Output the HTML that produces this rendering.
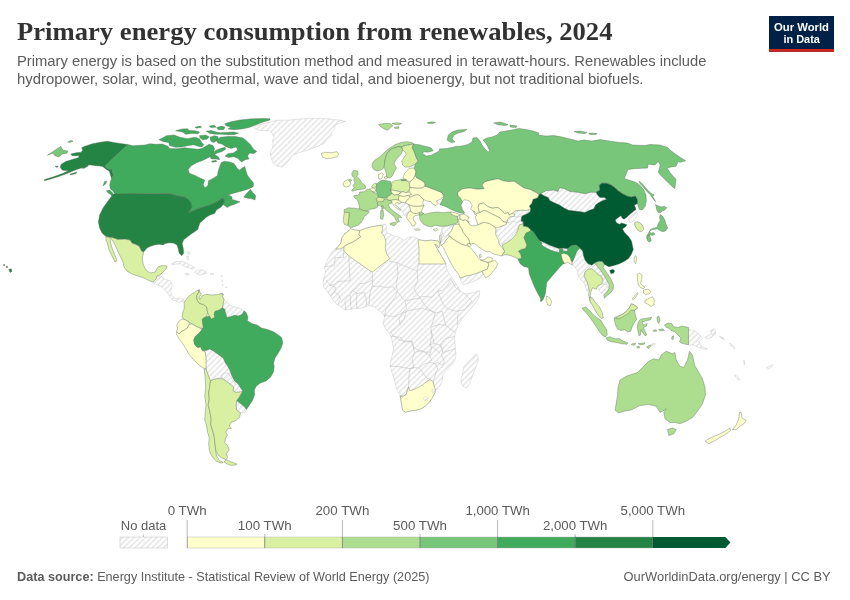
<!DOCTYPE html>
<html lang="en"><head><meta charset="utf-8"><title>Primary energy consumption from renewables, 2024</title>
<style>
html,body{margin:0;padding:0;background:#fff;}
body{width:850px;height:600px;position:relative;overflow:hidden;font-family:"Liberation Sans",sans-serif;}
svg{position:absolute;left:0;top:0;}
text{font-family:"Liberation Sans",sans-serif;}
.title{font-family:"Liberation Serif",serif;font-weight:bold;fill:#323232;}
.sub{fill:#5b5b5b;}
.lg{fill:#5b5b5b;font-size:13px;}
.ft{fill:#5b5b5b;font-size:13px;}
</style></head><body>
<svg width="850" height="600" viewBox="0 0 850 600">
<defs>
<pattern id="hatch" patternUnits="userSpaceOnUse" width="860" height="620">
<rect width="860" height="620" fill="#fff"/>
<path d="M2.9 0.0L0.0 2.9M8.6 0.0L0.0 8.6M14.3 0.0L0.0 14.3M20.0 0.0L0.0 20.0M25.7 0.0L0.0 25.7M31.4 0.0L0.0 31.4M37.1 0.0L0.0 37.1M42.9 0.0L0.0 42.9M48.6 0.0L0.0 48.6M54.3 0.0L0.0 54.3M60.0 0.0L0.0 60.0M65.7 0.0L0.0 65.7M71.4 0.0L0.0 71.4M77.1 0.0L0.0 77.1M82.9 0.0L0.0 82.9M88.6 0.0L0.0 88.6M94.3 0.0L0.0 94.3M100.0 0.0L0.0 100.0M105.7 0.0L0.0 105.7M111.4 0.0L0.0 111.4M117.1 0.0L0.0 117.1M122.9 0.0L0.0 122.9M128.6 0.0L0.0 128.6M134.3 0.0L0.0 134.3M140.0 0.0L0.0 140.0M145.7 0.0L0.0 145.7M151.4 0.0L0.0 151.4M157.1 0.0L0.0 157.1M162.9 0.0L0.0 162.9M168.6 0.0L0.0 168.6M174.3 0.0L0.0 174.3M180.0 0.0L0.0 180.0M185.7 0.0L0.0 185.7M191.4 0.0L0.0 191.4M197.1 0.0L0.0 197.1M202.9 0.0L0.0 202.9M208.6 0.0L0.0 208.6M214.3 0.0L0.0 214.3M220.0 0.0L0.0 220.0M225.7 0.0L0.0 225.7M231.4 0.0L0.0 231.4M237.1 0.0L0.0 237.1M242.9 0.0L0.0 242.9M248.6 0.0L0.0 248.6M254.3 0.0L0.0 254.3M260.0 0.0L0.0 260.0M265.7 0.0L0.0 265.7M271.4 0.0L0.0 271.4M277.1 0.0L0.0 277.1M282.9 0.0L0.0 282.9M288.6 0.0L0.0 288.6M294.3 0.0L0.0 294.3M300.0 0.0L0.0 300.0M305.7 0.0L0.0 305.7M311.4 0.0L0.0 311.4M317.1 0.0L0.0 317.1M322.9 0.0L0.0 322.9M328.6 0.0L0.0 328.6M334.3 0.0L0.0 334.3M340.0 0.0L0.0 340.0M345.7 0.0L0.0 345.7M351.4 0.0L0.0 351.4M357.1 0.0L0.0 357.1M362.9 0.0L0.0 362.9M368.6 0.0L0.0 368.6M374.3 0.0L0.0 374.3M380.0 0.0L0.0 380.0M385.7 0.0L0.0 385.7M391.4 0.0L0.0 391.4M397.1 0.0L0.0 397.1M402.9 0.0L0.0 402.9M408.6 0.0L0.0 408.6M414.3 0.0L0.0 414.3M420.0 0.0L0.0 420.0M425.7 0.0L0.0 425.7M431.4 0.0L0.0 431.4M437.1 0.0L0.0 437.1M442.9 0.0L0.0 442.9M448.6 0.0L0.0 448.6M454.3 0.0L0.0 454.3M460.0 0.0L0.0 460.0M465.7 0.0L0.0 465.7M471.4 0.0L0.0 471.4M477.1 0.0L0.0 477.1M482.9 0.0L0.0 482.9M488.6 0.0L0.0 488.6M494.3 0.0L0.0 494.3M500.0 0.0L0.0 500.0M505.7 0.0L0.0 505.7M511.4 0.0L0.0 511.4M517.1 0.0L0.0 517.1M522.9 0.0L0.0 522.9M528.6 0.0L0.0 528.6M534.3 0.0L0.0 534.3M540.0 0.0L0.0 540.0M545.7 0.0L0.0 545.7M551.4 0.0L0.0 551.4M557.1 0.0L0.0 557.1M562.9 0.0L0.0 562.9M568.6 0.0L0.0 568.6M574.3 0.0L0.0 574.3M580.0 0.0L0.0 580.0M585.7 0.0L0.0 585.7M591.4 0.0L0.0 591.4M597.1 0.0L0.0 597.1M602.9 0.0L0.0 602.9M608.6 0.0L0.0 608.6M614.3 0.0L0.0 614.3M620.0 0.0L0.0 620.0M625.7 0.0L5.7 620.0M631.4 0.0L11.4 620.0M637.1 0.0L17.1 620.0M642.9 0.0L22.9 620.0M648.6 0.0L28.6 620.0M654.3 0.0L34.3 620.0M660.0 0.0L40.0 620.0M665.7 0.0L45.7 620.0M671.4 0.0L51.4 620.0M677.1 0.0L57.1 620.0M682.9 0.0L62.9 620.0M688.6 0.0L68.6 620.0M694.3 0.0L74.3 620.0M700.0 0.0L80.0 620.0M705.7 0.0L85.7 620.0M711.4 0.0L91.4 620.0M717.1 0.0L97.1 620.0M722.9 0.0L102.9 620.0M728.6 0.0L108.6 620.0M734.3 0.0L114.3 620.0M740.0 0.0L120.0 620.0M745.7 0.0L125.7 620.0M751.4 0.0L131.4 620.0M757.1 0.0L137.1 620.0M762.9 0.0L142.9 620.0M768.6 0.0L148.6 620.0M774.3 0.0L154.3 620.0M780.0 0.0L160.0 620.0M785.7 0.0L165.7 620.0M791.4 0.0L171.4 620.0M797.1 0.0L177.1 620.0M802.9 0.0L182.9 620.0M808.6 0.0L188.6 620.0M814.3 0.0L194.3 620.0M820.0 0.0L200.0 620.0M825.7 0.0L205.7 620.0M831.4 0.0L211.4 620.0M837.1 0.0L217.1 620.0M842.9 0.0L222.9 620.0M848.6 0.0L228.6 620.0M854.3 0.0L234.3 620.0M860.0 0.0L240.0 620.0M860.0 5.7L245.7 620.0M860.0 11.4L251.4 620.0M860.0 17.1L257.1 620.0M860.0 22.9L262.9 620.0M860.0 28.6L268.6 620.0M860.0 34.3L274.3 620.0M860.0 40.0L280.0 620.0M860.0 45.7L285.7 620.0M860.0 51.4L291.4 620.0M860.0 57.1L297.1 620.0M860.0 62.9L302.9 620.0M860.0 68.6L308.6 620.0M860.0 74.3L314.3 620.0M860.0 80.0L320.0 620.0M860.0 85.7L325.7 620.0M860.0 91.4L331.4 620.0M860.0 97.1L337.1 620.0M860.0 102.9L342.9 620.0M860.0 108.6L348.6 620.0M860.0 114.3L354.3 620.0M860.0 120.0L360.0 620.0M860.0 125.7L365.7 620.0M860.0 131.4L371.4 620.0M860.0 137.1L377.1 620.0M860.0 142.9L382.9 620.0M860.0 148.6L388.6 620.0M860.0 154.3L394.3 620.0M860.0 160.0L400.0 620.0M860.0 165.7L405.7 620.0M860.0 171.4L411.4 620.0M860.0 177.1L417.1 620.0M860.0 182.9L422.9 620.0M860.0 188.6L428.6 620.0M860.0 194.3L434.3 620.0M860.0 200.0L440.0 620.0M860.0 205.7L445.7 620.0M860.0 211.4L451.4 620.0M860.0 217.1L457.1 620.0M860.0 222.9L462.9 620.0M860.0 228.6L468.6 620.0M860.0 234.3L474.3 620.0M860.0 240.0L480.0 620.0M860.0 245.7L485.7 620.0M860.0 251.4L491.4 620.0M860.0 257.1L497.1 620.0M860.0 262.9L502.9 620.0M860.0 268.6L508.6 620.0M860.0 274.3L514.3 620.0M860.0 280.0L520.0 620.0M860.0 285.7L525.7 620.0M860.0 291.4L531.4 620.0M860.0 297.1L537.1 620.0M860.0 302.9L542.9 620.0M860.0 308.6L548.6 620.0M860.0 314.3L554.3 620.0M860.0 320.0L560.0 620.0M860.0 325.7L565.7 620.0M860.0 331.4L571.4 620.0M860.0 337.1L577.1 620.0M860.0 342.9L582.9 620.0M860.0 348.6L588.6 620.0M860.0 354.3L594.3 620.0M860.0 360.0L600.0 620.0M860.0 365.7L605.7 620.0M860.0 371.4L611.4 620.0M860.0 377.1L617.1 620.0M860.0 382.9L622.9 620.0M860.0 388.6L628.6 620.0M860.0 394.3L634.3 620.0M860.0 400.0L640.0 620.0M860.0 405.7L645.7 620.0M860.0 411.4L651.4 620.0M860.0 417.1L657.1 620.0M860.0 422.9L662.9 620.0M860.0 428.6L668.6 620.0M860.0 434.3L674.3 620.0M860.0 440.0L680.0 620.0M860.0 445.7L685.7 620.0M860.0 451.4L691.4 620.0M860.0 457.1L697.1 620.0M860.0 462.9L702.9 620.0M860.0 468.6L708.6 620.0M860.0 474.3L714.3 620.0M860.0 480.0L720.0 620.0M860.0 485.7L725.7 620.0M860.0 491.4L731.4 620.0M860.0 497.1L737.1 620.0M860.0 502.9L742.9 620.0M860.0 508.6L748.6 620.0M860.0 514.3L754.3 620.0M860.0 520.0L760.0 620.0M860.0 525.7L765.7 620.0M860.0 531.4L771.4 620.0M860.0 537.1L777.1 620.0M860.0 542.9L782.9 620.0M860.0 548.6L788.6 620.0M860.0 554.3L794.3 620.0M860.0 560.0L800.0 620.0M860.0 565.7L805.7 620.0M860.0 571.4L811.4 620.0M860.0 577.1L817.1 620.0M860.0 582.9L822.9 620.0M860.0 588.6L828.6 620.0M860.0 594.3L834.3 620.0" stroke="#e6e6e6" stroke-width="1.5" fill="none"/>
</pattern>
</defs>
<rect width="850" height="600" fill="#fff"/>
<g id="map">
<g fill="url(#hatch)" stroke="#c8c8c8" stroke-width="0.5" stroke-linejoin="round">
<path d="M155.0 280.5L157.2 276.7L161.0 275.7L162.5 278.2L166.2 279.7L170.0 280.5L172.2 283.5L171.5 288.0L170.7 292.5L172.2 296.2L176.0 299.2L179.7 297.7L183.5 299.2L185.0 302.2L182.0 301.5L178.2 302.2L175.2 300.7L172.2 300.0L169.2 295.5L166.2 291.7L163.2 288.0L159.5 285.7L155.7 284.2L152.7 282.7Z"/>
<path d="M171.5 264.0L176.0 261.7L181.2 261.3L186.5 263.2L191.0 265.5L194.7 267.7L193.2 269.2L189.5 268.2L185.0 266.7L180.5 264.0L176.0 264.0L173.0 264.7Z"/>
<path d="M194.7 272.2L197.7 270.0L202.2 269.7L206.0 271.5L206.7 273.7L203.0 274.2L200.0 275.2L197.0 273.7Z"/>
<path d="M185.0 273.7L188.0 273.0L189.2 274.5L186.5 275.4Z"/>
<path d="M210.2 273.7L213.2 273.3L213.5 274.5L210.5 274.8Z"/>
<path d="M186.5 252.0L188.7 251.2L190.2 253.5L188.3 254.2Z"/>
<path d="M186.8 256.5L188.3 256.2L188.7 259.2L187.2 259.5Z"/>
<path d="M221.4 275.7L222.3 275.7L222.3 276.6L221.4 276.6Z"/>
<path d="M221.9 280.2L222.8 280.2L222.8 281.1L221.9 281.1Z"/>
<path d="M222.2 284.7L223.1 284.7L223.1 285.6L222.2 285.6Z"/>
<path d="M225.9 286.9L226.8 286.9L226.8 287.8L225.9 287.8Z"/>
<path d="M254.5 127.0L259.0 124.7L268.0 122.5L277.7 120.2L287.5 120.2L299.5 119.2L310.0 118.3L320.5 118.3L331.0 119.2L340.0 120.2L345.7 121.3L340.0 123.2L335.5 124.7L334.0 129.2L331.7 132.2L331.0 136.0L326.5 139.3L324.2 143.5L319.0 145.7L313.0 148.0L307.0 150.2L299.5 152.5L293.5 154.7L289.7 159.2L286.0 163.7L281.5 167.2L277.0 166.0L273.2 163.0L271.0 157.7L270.2 152.5L272.5 148.0L273.2 144.2L272.5 140.5L274.0 137.5L272.5 133.7L269.5 130.7L263.5 130.7L257.5 130.0L255.2 128.5Z"/>
<path d="M396.5 202.5L399.5 203.3L401.7 202.2L405.5 202.7L408.5 204.5L410.0 207.5L410.7 211.2L408.5 212.0L407.0 215.0L405.5 216.5L404.0 214.2L401.0 209.7L398.0 207.5L395.0 204.5Z"/>
<path d="M419.0 195.0L421.2 197.3L423.5 199.5L422.7 201.8L420.5 199.5Z"/>
<path d="M628.7 217.5L632.5 214.5L636.2 211.5L637.7 213.0L637.0 216.0L634.7 219.0L632.5 222.0L630.2 222.7L628.7 220.5Z"/>
<path d="M540.7 193.7L546.0 190.7L553.5 190.0L558.0 191.5L559.5 187.7L564.0 188.5L570.0 191.5L577.5 192.2L585.0 193.7L591.0 192.2L596.2 192.2L597.7 195.2L600.0 197.5L604.5 197.5L606.7 199.3L603.0 200.5L598.5 202.7L595.5 205.0L594.0 208.7L589.5 210.2L585.0 212.5L580.5 211.7L574.5 211.0L568.5 210.2L564.0 208.0L559.5 205.0L554.2 202.7L549.7 200.5L548.2 197.5L544.5 196.0Z"/>
<path d="M515.0 210.8L521.0 210.2L527.0 210.5L530.7 209.0L530.0 212.0L526.2 214.2L522.5 215.7L518.0 216.8L515.0 216.5L513.5 216.5L515.0 214.2L512.0 213.5Z"/>
<path d="M509.7 216.8L513.5 216.5L515.0 216.5L518.0 216.8L522.5 215.7L521.0 218.0L521.7 218.0L521.0 221.0L517.2 222.5L513.5 221.7L510.5 222.5L506.7 222.5L507.5 219.5Z"/>
<path d="M497.7 227.0L502.2 225.8L506.0 224.7L506.7 222.5L510.5 222.5L513.5 221.7L517.2 222.5L521.0 221.0L523.2 221.7L523.2 224.0L519.5 224.7L518.0 227.7L516.5 231.5L513.5 234.5L510.5 238.2L506.7 241.2L502.2 244.2L499.2 243.5L500.0 239.0L497.7 236.0L496.2 231.5Z"/>
<path d="M442.0 227.5L445.0 225.5L448.0 226.0L451.5 225.0L453.5 225.0L452.5 228.5L451.0 231.5L448.5 234.0L446.0 236.0L444.0 236.5L443.0 234.5L442.0 231.5L441.5 229.0Z"/>
<path d="M441.0 239.0L443.0 237.0L444.0 236.5L446.0 236.0L448.5 234.0L449.5 236.0L447.5 238.5L446.0 240.0L443.5 244.0L441.5 245.0L440.5 242.0Z"/>
<path d="M440.5 232.5L441.8 231.5L442.2 233.5L440.8 235.0Z"/>
<path d="M457.0 216.5L460.0 215.2L460.0 219.0L458.5 219.5Z"/>
<path d="M460.2 278.0L462.5 277.2L467.0 275.7L471.5 275.0L476.0 273.5L482.0 271.2L483.5 274.2L480.5 278.0L474.5 281.0L468.5 283.2L463.2 284.7L461.0 281.7Z"/>
<path d="M541.8 242.7L546.0 244.2L550.5 246.5L555.0 248.3L559.5 249.5L559.5 252.5L555.0 251.7L549.0 249.5L543.7 246.5L541.5 244.7Z"/>
<path d="M562.5 248.7L567.0 248.7L567.7 251.0L563.2 251.3Z"/>
<path d="M572.2 262.2L573.7 259.2L575.2 255.5L576.7 251.7L579.7 248.7L582.7 251.0L583.5 255.5L585.0 260.0L588.0 263.7L590.2 266.7L588.0 269.0L585.0 272.0L584.2 276.5L586.5 280.2L588.0 284.7L588.7 290.0L587.2 291.5L585.7 287.0L583.5 281.7L580.5 279.5L578.2 275.7L577.5 271.2L575.2 267.5L573.3 265.2Z"/>
<path d="M590.2 266.7L591.7 265.2L594.7 263.3L597.0 266.0L600.0 269.7L603.0 272.7L606.0 276.5L607.5 281.0L606.7 284.7L603.0 284.0L603.0 280.2L601.5 276.5L597.7 274.2L594.7 271.2L591.7 268.7L589.5 268.2Z"/>
<path d="M597.7 285.8L601.5 284.0L603.0 284.0L606.7 284.7L609.0 287.7L607.5 291.5L603.7 293.7L600.0 292.2L598.2 289.2Z"/>
<path d="M650.2 344.7L654.7 343.2L655.5 344.0L651.7 345.8Z"/>
<path d="M688.0 328.8L695.0 331.2L700.0 335.0L702.5 338.8L698.8 341.2L701.2 346.2L707.5 348.8L705.0 349.5L698.8 347.5L693.8 345.0L688.0 345.0Z"/>
<path d="M705.0 337.5L711.2 333.8L715.0 330.0L715.5 333.8L711.2 337.5L706.2 338.8Z"/>
<path d="M735.0 374.5L740.0 379.5L738.8 380.5L734.2 375.5Z"/>
<path d="M766.2 368.0L772.5 364.5L773.2 365.5L767.5 369.5Z"/>
<path d="M743.8 360.0L745.0 364.5L744.2 365.0Z"/>
<path d="M710.0 331.2L713.8 328.8L715.5 331.2L712.5 335.0Z"/>
<path d="M719.5 336.2L723.8 338.0L724.5 340.0L720.5 338.0Z"/>
<path d="M729.5 343.0L733.8 346.2L734.5 348.8L730.5 345.5Z"/>
<path d="M224.0 299.5L227.0 302.5L231.5 306.2L236.0 307.0L240.5 308.5L244.2 310.7L242.0 314.5L238.2 316.0L234.5 315.2L230.7 316.7L227.0 317.5L225.5 313.0L224.7 309.2L222.5 307.7L223.2 304.0Z"/>
<path d="M236.7 400.8L240.5 403.5L244.2 406.5L246.5 409.5L245.0 412.5L240.5 412.8L236.7 410.2L236.0 405.0Z"/>
<path d="M221.7 375.0L224.7 372.7L228.5 373.5L230.7 376.5L233.0 381.0L236.7 384.0L240.5 387.7L239.7 392.2L235.2 392.2L233.0 390.7L233.7 387.0L230.0 384.0L226.2 381.0L222.5 378.7Z"/>
<path d="M202.2 350.5L206.0 350.5L209.7 349.0L212.7 350.5L218.0 354.2L223.2 358.0L225.5 363.0L227.7 366.0L230.0 370.5L231.5 375.0L230.7 376.5L228.5 373.5L224.7 372.7L221.7 375.0L221.7 378.7L217.2 378.7L213.5 379.5L210.5 381.0L208.2 375.0L206.0 369.0L206.0 364.0L206.0 358.0L205.2 352.0Z"/>
<path d="M350.7 228.8L355.2 230.0L359.7 230.7L365.0 228.5L371.0 227.0L378.5 225.5L381.8 225.2L385.2 224.3L386.7 227.0L386.0 230.0L387.5 233.0L392.0 235.2L398.0 236.7L404.0 240.5L407.0 238.2L411.5 236.7L417.5 238.2L418.2 239.7L425.0 240.8L431.0 240.2L437.0 240.8L438.5 241.2L440.0 245.0L438.5 248.0L437.0 245.0L434.7 244.2L438.5 251.0L443.0 258.5L446.0 264.0L447.5 271.0L452.8 278.9L458.0 286.8L460.6 291.1L465.0 293.8L472.0 292.9L479.9 290.6L479.0 297.3L474.6 304.3L468.5 311.3L462.4 318.3L458.0 325.3L455.4 332.3L454.5 339.3L455.4 348.0L455.9 355.0L454.7 360.7L450.5 366.0L446.7 369.7L443.0 374.2L442.2 381.0L440.0 385.8L435.8 390.0L434.7 393.0L432.5 397.5L429.5 402.0L425.7 405.7L421.2 408.7L416.0 410.2L410.0 411.0L405.5 412.2L402.5 410.2L401.7 405.0L401.0 400.5L400.2 396.0L396.5 388.5L394.2 379.5L392.3 373.5L390.3 366.0L391.0 360.0L392.5 354.0L393.5 349.0L392.5 343.0L391.5 338.0L390.0 334.0L385.0 328.0L383.0 323.0L385.0 316.0L384.5 314.8L384.7 316.7L382.5 313.0L378.0 310.0L374.2 307.0L369.0 305.5L363.0 307.7L357.0 308.5L351.0 309.2L345.7 310.0L342.0 307.7L337.5 304.7L333.7 301.0L330.7 296.5L327.7 292.0L324.0 287.5L322.8 283.0L324.0 277.7L325.5 272.5L324.7 267.2L326.2 262.7L328.5 257.5L331.5 253.0L334.5 249.2L338.0 246.5L341.0 242.7L341.7 238.2L344.0 234.5L347.7 231.5Z"/>
<path d="M461.0 379.5L462.5 373.5L464.0 366.7L467.7 362.2L472.2 357.7L476.0 353.7L478.2 356.2L477.8 362.2L475.2 369.0L472.2 376.5L469.7 384.0L466.2 388.2L462.8 386.2L461.0 382.5Z"/>
</g>
<g fill="none" stroke="#bebebe" stroke-width="0.55" stroke-linejoin="round">
<path d="M324.7 266.5L334.5 265.7L335.2 257.5L343.5 257.5L343.5 249.2"/>
<path d="M348.7 256.0L350.2 280.7L337.5 281.5L334.5 284.5L330.0 285.2L326.2 280.0"/>
<path d="M372.0 271.7L372.7 280.0L366.0 283.0L360.0 283.7L357.0 287.5L352.5 290.5L350.2 295.0L347.2 296.5L345.0 301.0L345.7 310.0"/>
<path d="M389.2 261.2L396.7 262.7L398.2 274.0L396.0 284.5L397.5 292.0L394.5 298.0L390.0 304.0L385.5 310.0L384.7 316.7"/>
<path d="M396.7 262.7L417.0 271.0L418.5 264.2"/>
<path d="M417.0 271.0L417.7 280.0L414.0 289.0L420.0 298.0L426.0 307.0L435.0 313.0"/>
<path d="M372.0 286.7L378.0 286.0L385.5 287.5L393.0 286.7L396.0 290.5"/>
<path d="M372.7 280.0L372.0 286.7L369.7 295.0L369.0 305.5"/>
<path d="M352.5 290.5L357.0 293.5L364.5 292.7L366.0 298.0L366.7 305.5"/>
<path d="M357.0 293.5L356.2 301.0L357.0 308.5"/>
<path d="M350.2 295.0L351.0 309.2"/>
<path d="M337.5 304.7L340.5 299.5L339.0 295.0L334.5 292.0L330.7 296.5"/>
<path d="M334.5 292.0L336.0 287.5L330.0 285.2"/>
<path d="M397.5 292.0L405.0 301.0L411.0 299.5L420.0 298.0"/>
<path d="M405.0 301.0L406.5 308.5L402.0 313.0L399.0 319.0L400.5 325.0"/>
<path d="M419.5 297.3L424.8 296.4L431.8 297.3L437.9 291.1L441.4 300.8L445.8 307.8L456.3 311.3L465.0 309.5L472.0 300.8L465.0 293.8"/>
<path d="M442.3 311.3L435.3 313.0L431.8 311.3L423.0 308.6L412.5 309.5L406.4 311.3L402.0 313.0L395.0 316.5L384.5 315.6"/>
<path d="M435.3 313.0L433.5 320.0L430.9 327.0L431.8 335.8L430.0 344.5L433.5 348.0L440.5 353.3"/>
<path d="M431.8 327.0L438.8 324.4L445.8 325.3L454.5 332.3"/>
<path d="M442.3 311.3L444.0 318.3L445.8 325.3"/>
<path d="M458.0 313.0L457.1 325.3"/>
<path d="M406.4 311.3L403.8 320.0L397.6 327.0L390.6 332.3L395.0 337.5L402.9 341.0L410.8 341.0L414.3 348.0L421.3 351.5L430.0 352.4"/>
<path d="M451.0 278.9L447.5 285.0L442.3 290.3L437.9 291.1"/>
<path d="M460.6 291.1L455.4 287.6L451.0 278.9"/>
<path d="M400.2 396.0L406.2 394.5L408.5 387.0L409.2 373.5L410.0 368.7"/>
<path d="M389.7 366.0L399.5 366.7L410.0 368.7L413.7 367.5"/>
<path d="M410.0 368.7L414.5 367.5L419.0 368.2L423.5 373.5L426.5 378.0L430.2 379.8"/>
<path d="M419.0 368.2L423.5 364.5L429.5 362.2L435.5 363.7L437.7 369.0L435.5 373.5L433.2 381.7"/>
<path d="M413.7 367.5L412.2 358.5L414.5 352.5L422.0 350.2L429.5 355.5L431.7 360.0L429.5 362.2"/>
<path d="M429.5 355.5L431.7 348.0L429.5 345.0L434.0 343.5L440.0 345.0L443.0 349.5L441.5 355.5L444.5 361.5L442.2 365.2L437.7 362.2L435.5 363.7"/>
<path d="M440.0 345.0L443.0 352.5L455.0 348.7"/>
<path d="M391.2 336.0L401.0 337.5L404.0 342.0L412.2 341.2L414.5 352.5"/>
<path d="M434.0 343.5L432.5 336.0L431.0 330.0"/>
<path d="M440.0 345.0L444.5 339.0L455.0 336.0"/>
</g>
<g stroke="#5a6b5a" stroke-width="0.4" stroke-linejoin="round">
<path d="M127.7 144.5L104.8 166.0L108.2 169.3L111.7 169.3L113.2 175.0L111.7 178.7L110.5 175.0L109.3 171.2L106.0 169.3L103.0 166.7L100.0 166.0L95.5 165.7L92.5 165.2L88.0 164.8L85.0 166.7L80.5 168.2L76.0 169.7L72.2 171.2L67.0 173.5L58.0 176.8L49.0 179.5L44.2 180.7L44.5 179.5L53.5 176.8L62.5 173.5L68.5 170.8L62.5 170.2L60.2 167.5L61.0 164.5L65.5 161.5L72.2 159.5L78.2 157.7L79.3 155.8L72.2 155.8L70.7 154.0L76.0 152.8L81.2 152.2L82.7 150.2L81.7 147.7L85.0 146.2L92.5 143.8L100.0 142.3L107.5 141.2L115.0 142.7L122.5 143.8Z" fill="#238443"/>
<path d="M47.5 155.2L55.0 150.2L60.7 146.5L63.2 150.2L67.7 151.0L67.0 153.2L62.5 154.0L58.7 157.0L55.0 155.8L52.7 153.2Z" fill="#78c679"/>
<path d="M67.7 142.0L70.7 140.5L73.0 141.2L70.0 142.4Z" fill="#78c679"/>
<path d="M55.0 166.4L58.3 166.0L57.2 167.5Z" fill="#238443"/>
<path d="M81.7 168.2L85.0 166.0L88.7 164.5L87.7 166.3L84.2 168.2Z" fill="#238443"/>
<path d="M70.0 174.2L76.7 172.0L76.0 173.5L70.7 175.0Z" fill="#238443"/>
<path d="M103.0 185.8L104.5 181.7L106.7 181.0L105.7 184.0Z" fill="#41ab5d"/>
<path d="M106.4 190.7L109.7 190.0L112.7 193.0L114.5 196.7L113.2 197.8L110.5 194.5L108.2 193.0Z" fill="#41ab5d"/>
<path d="M115.0 194.2L112.7 190.7L110.5 189.2L109.7 185.5L110.5 181.0L111.7 178.7L113.2 175.0L111.7 169.3L108.2 169.3L104.8 166.0L127.7 144.5L133.0 145.7L145.0 145.0L150.0 143.7L156.0 144.3L162.0 144.0L168.0 146.2L169.5 148.5L177.0 148.8L184.5 147.7L191.2 148.5L198.0 149.2L201.7 148.5L205.5 146.2L209.2 144.3L213.0 145.5L214.5 148.5L213.7 151.8L216.7 150.0L220.5 148.5L225.0 147.3L225.7 149.2L222.0 151.5L217.5 153.0L214.5 154.5L210.0 156.7L206.2 158.7L202.5 160.5L196.5 162.7L191.2 165.7L188.2 169.5L189.3 173.2L195.0 175.5L201.0 178.5L204.7 180.0L203.2 184.5L204.7 187.8L207.7 186.0L208.5 180.7L213.0 178.5L217.5 175.5L218.2 171.0L219.7 166.5L221.2 162.7L224.2 161.2L229.5 162.0L234.0 163.5L237.0 168.0L239.2 170.2L242.2 168.0L244.8 166.5L246.0 171.0L247.5 175.5L250.5 179.2L253.5 183.0L253.2 186.7L249.0 188.7L243.0 190.7L236.2 192.5L231.0 194.0L226.5 195.8L229.5 195.5L232.2 197.0L231.7 199.2L236.2 200.7L240.0 201.8L234.7 204.2L230.2 205.7L227.2 207.5L225.7 206.3L223.2 204.5L224.2 201.5L223.5 198.2L220.5 199.2L217.5 201.5L213.0 203.7L209.2 205.2L204.0 206.7L198.0 208.7L193.5 210.5L188.7 212.7L192.0 206.7L191.2 203.0L188.2 199.2L184.5 197.0L180.0 196.2L172.5 194.7L171.0 193.7L150.0 193.7Z" fill="#41ab5d"/>
<path d="M243.7 197.0L247.5 192.5L250.5 189.5L252.7 192.5L255.7 195.5L255.0 200.0L251.2 198.5L247.5 198.2Z" fill="#41ab5d"/>
<path d="M159.0 139.8L166.5 135.7L174.0 135.0L180.0 137.2L187.5 138.7L195.0 137.2L199.5 138.7L201.7 142.5L204.0 144.7L201.7 147.0L198.0 146.2L193.5 144.7L187.5 145.8L181.5 147.0L175.5 147.3L169.5 145.5L168.7 142.5L163.5 141.7Z" fill="#41ab5d"/>
<path d="M175.5 130.8L182.2 129.0L187.5 128.7L189.3 130.5L195.0 130.8L199.5 132.0L198.0 133.8L192.0 133.5L186.0 134.2L182.2 132.0Z" fill="#41ab5d"/>
<path d="M195.0 127.2L200.2 126.0L201.7 127.2L196.5 128.2Z" fill="#41ab5d"/>
<path d="M199.5 135.7L205.5 135.0L209.2 136.8L207.0 139.2L202.5 139.8L200.2 138.0Z" fill="#41ab5d"/>
<path d="M209.2 126.0L214.5 125.2L216.0 127.2L210.7 127.5Z" fill="#41ab5d"/>
<path d="M206.2 131.2L211.5 130.5L216.0 132.0L220.5 132.7L228.0 132.3L234.0 132.0L238.5 133.2L234.0 134.7L228.0 134.7L222.0 134.2L216.0 134.2L210.0 133.5Z" fill="#41ab5d"/>
<path d="M224.7 123.7L231.0 121.8L240.0 120.0L252.0 118.8L264.0 118.5L270.0 118.8L270.0 120.0L261.0 122.7L255.0 125.2L249.0 127.5L241.5 129.0L234.0 129.7L228.0 129.0L231.0 126.7L226.5 126.0Z" fill="#41ab5d"/>
<path d="M216.7 127.5L222.0 126.0L225.0 127.5L223.5 129.7L218.2 129.7Z" fill="#41ab5d"/>
<path d="M210.0 137.2L214.5 135.7L218.2 136.8L217.5 140.2L213.7 142.5L210.7 141.0Z" fill="#41ab5d"/>
<path d="M216.0 140.2L220.5 137.2L228.0 136.5L235.5 136.5L243.0 138.0L247.5 141.7L250.5 144.7L253.5 149.2L256.8 151.5L253.5 153.7L249.7 153.0L247.5 156.0L249.0 159.0L245.2 159.7L241.5 162.0L237.7 158.2L234.0 156.7L228.0 157.5L225.0 156.0L228.0 153.7L233.2 153.0L237.7 150.0L236.2 147.0L231.0 148.5L225.0 146.2L222.0 144.0L218.2 143.2Z" fill="#41ab5d"/>
<path d="M210.0 156.7L214.5 154.5L218.2 156.7L219.7 159.7L216.0 159.0L211.5 159.0Z" fill="#41ab5d"/>
<path d="M211.5 161.2L216.0 160.2L216.7 161.7L212.2 162.3Z" fill="#41ab5d"/>
<path d="M113.6 194.0L171.0 193.7L172.5 194.7L180.0 196.2L184.5 197.0L188.2 199.2L191.2 203.0L192.0 206.7L188.7 212.7L193.5 210.5L198.0 208.7L204.0 206.7L209.2 205.2L213.0 203.7L217.5 201.5L220.5 199.2L223.5 198.2L224.2 201.5L223.2 204.5L220.5 207.5L216.7 209.7L214.5 213.5L210.0 215.0L206.2 217.2L203.2 220.2L200.2 222.5L198.7 226.2L198.0 229.2L195.0 231.5L190.5 234.5L186.7 237.5L183.7 239.7L182.2 243.5L183.3 248.7L183.7 253.2L181.8 255.8L179.2 253.2L178.2 248.7L177.0 245.0L174.0 243.2L169.5 242.7L165.0 243.5L163.5 245.0L159.0 244.2L154.5 245.0L150.0 246.5L147.0 248.0L143.6 252.0L141.6 251.0L139.0 246.0L135.0 244.0L132.0 243.0L130.0 240.0L125.0 239.0L118.0 239.4L112.0 237.4L106.0 236.6L102.0 233.0L99.6 228.0L98.4 222.0L99.6 215.0L103.0 208.0L108.0 201.0L111.0 197.0Z" fill="#238443"/>
<path d="M106.0 237.0L110.0 237.4L110.6 243.0L112.4 249.0L115.0 255.0L117.0 260.6L115.0 262.0L112.0 256.0L109.0 250.0L107.6 244.0L106.0 240.0Z" fill="#d9f0a3"/>
<path d="M110.0 237.4L112.0 237.4L118.0 239.6L125.0 239.2L130.0 240.2L132.0 243.2L135.0 244.2L139.0 246.2L141.6 251.2L143.6 252.4L142.4 258.0L143.0 264.0L146.0 270.0L150.0 273.0L155.0 272.0L158.0 267.0L162.0 265.6L167.0 266.0L166.0 269.0L163.0 272.0L160.0 275.0L157.0 276.0L156.0 279.0L153.0 282.0L149.0 280.6L144.0 278.0L138.0 276.0L132.0 274.0L127.0 271.0L124.0 267.0L123.0 262.0L119.0 254.0L116.0 247.0L113.0 241.0Z" fill="#d9f0a3"/>
<path d="M220.2 294.0L222.5 293.2L223.4 294.7L221.0 295.8Z" fill="#ffffcc"/>
<path d="M321.2 153.7L325.0 152.2L331.0 152.8L337.0 151.7L338.8 154.3L337.0 156.7L331.7 158.2L326.5 158.5L322.7 157.3Z" fill="#ffffcc"/>
<path d="M372.2 163.5L374.3 160.5L380.0 156.7L384.5 152.2L389.0 148.5L395.0 144.7L401.0 142.5L407.0 141.7L412.2 142.5L413.7 144.0L410.0 144.7L405.5 145.5L401.7 147.0L398.0 146.7L393.5 148.2L389.7 150.0L386.7 154.5L385.2 159.0L384.5 163.5L383.7 168.0L380.7 170.2L377.0 171.0L373.7 169.5L372.2 166.5Z" fill="#addd8e"/>
<path d="M385.2 159.0L386.7 154.5L389.7 150.0L393.5 148.2L398.0 146.7L401.7 147.0L402.8 150.0L401.0 154.5L397.2 158.2L395.0 161.2L394.2 164.2L396.5 168.0L394.2 171.7L392.7 175.5L389.7 178.2L386.7 177.0L386.0 172.5L384.5 168.0L384.5 163.5Z" fill="#addd8e"/>
<path d="M401.7 147.0L405.5 145.5L410.0 144.7L413.7 144.0L412.2 147.7L414.5 152.2L416.0 156.7L418.2 161.2L415.2 164.2L410.0 166.8L405.5 167.2L402.5 165.0L401.7 161.2L404.0 157.5L406.2 154.5L404.7 151.5L402.8 150.0Z" fill="#d9f0a3"/>
<path d="M378.5 124.8L384.5 123.3L390.5 123.7L392.7 125.7L390.5 127.8L387.5 130.2L383.7 128.7L380.7 126.7Z" fill="#addd8e"/>
<path d="M392.0 123.3L396.5 122.7L401.7 123.3L399.5 124.8L394.2 124.5Z" fill="#addd8e"/>
<path d="M394.2 127.2L398.7 126.7L399.2 128.2L395.0 128.5Z" fill="#addd8e"/>
<path d="M427.2 122.7L431.7 121.8L435.5 122.4L432.5 123.6L428.7 123.6Z" fill="#78c679"/>
<path d="M351.8 173.2L353.7 170.2L357.5 171.0L358.2 174.0L356.7 176.7L359.7 179.2L362.0 183.0L365.0 185.2L365.7 188.2L362.0 189.3L357.5 189.7L353.0 191.2L351.5 190.5L354.2 187.8L353.0 185.2L355.2 183.0L353.7 180.0L354.5 177.7L352.2 176.2Z" fill="#addd8e"/>
<path d="M348.2 180.0L350.3 178.9L351.8 180.3L350.0 181.8Z" fill="#addd8e"/>
<path d="M344.3 181.5L347.7 179.7L350.0 181.8L350.7 183.7L349.2 186.0L346.2 187.2L343.7 186.0L343.2 183.7Z" fill="#ffffcc"/>
<path d="M378.5 174.7L381.5 172.8L383.3 174.0L382.7 177.0L380.7 179.2L378.8 178.8Z" fill="#ffffcc"/>
<path d="M384.2 177.0L386.7 176.2L387.2 178.5L385.2 179.2Z" fill="#ffffcc"/>
<path d="M371.7 186.0L374.7 183.3L377.0 183.7L376.2 186.7L374.3 188.2L372.2 187.8Z" fill="#d9f0a3"/>
<path d="M369.5 189.3L372.2 187.8L374.3 188.4L375.8 190.5L374.3 192.3L371.7 191.2Z" fill="#ffffcc"/>
<path d="M377.0 183.7L380.0 181.2L383.0 180.0L386.7 180.7L390.5 181.5L391.7 186.0L390.8 189.7L392.0 193.5L389.0 195.7L386.7 198.0L382.2 197.7L378.5 197.2L377.7 194.2L375.8 190.5L376.2 186.7Z" fill="#78c679"/>
<path d="M391.7 182.7L395.0 180.7L401.0 179.7L406.7 180.7L409.2 183.0L410.0 186.7L409.2 190.5L406.2 192.7L402.5 191.7L398.0 191.2L394.2 190.5L390.8 189.7L391.7 186.0Z" fill="#d9f0a3"/>
<path d="M401.0 179.2L406.2 179.5L406.7 180.7L401.3 180.7Z" fill="#78c679"/>
<path d="M403.2 177.0L404.7 173.2L407.0 171.0L409.2 168.3L414.5 168.0L416.0 171.7L415.2 175.5L413.0 179.2L410.0 181.8L406.7 180.7L406.2 179.2L403.2 178.8Z" fill="#ffffcc"/>
<path d="M410.0 181.8L413.0 179.2L415.2 175.5L416.7 177.7L421.2 180.0L425.0 183.0L425.0 186.0L422.0 188.2L416.0 188.2L410.0 187.5L409.5 184.5Z" fill="#ffffcc"/>
<path d="M410.0 187.5L416.0 188.2L422.0 188.2L425.0 186.0L431.0 188.2L437.0 190.5L442.2 192.7L443.7 196.5L440.0 199.5L436.2 201.0L438.5 203.2L435.5 205.5L432.5 204.0L431.0 201.7L426.5 201.0L423.5 199.5L421.2 197.2L419.0 195.0L415.2 195.0L410.0 197.2L408.5 195.4L411.5 194.2L409.2 192.0L409.5 189.7Z" fill="#ffffcc"/>
<path d="M390.8 189.7L394.2 190.5L398.0 191.2L401.0 192.7L398.0 194.7L394.2 195.0L392.0 193.5Z" fill="#ffffcc"/>
<path d="M401.0 192.7L402.5 191.7L406.2 192.7L409.2 192.0L411.5 194.2L408.5 195.4L403.2 196.5L399.5 195.7L398.0 194.7Z" fill="#ffffcc"/>
<path d="M353.7 195.8L359.0 194.7L359.7 192.0L364.2 191.7L367.2 189.3L369.5 189.3L371.7 191.3L374.3 192.3L377.7 194.3L378.5 197.3L376.2 198.8L377.0 201.0L377.3 202.7L377.7 205.2L377.3 207.5L374.0 208.7L370.2 209.3L367.2 211.2L363.5 210.5L359.7 209.0L359.0 204.5L357.5 200.0L354.5 197.7Z" fill="#addd8e"/>
<path d="M344.0 209.7L348.5 207.8L354.5 208.2L359.7 209.0L363.5 210.5L367.2 211.2L369.5 212.0L367.2 214.2L364.2 216.5L362.7 220.2L360.5 223.2L357.5 225.5L353.0 227.0L350.7 227.7L348.5 226.2L347.7 225.2L348.2 222.5L348.8 217.2L349.2 212.7L344.3 212.3Z" fill="#addd8e"/>
<path d="M344.3 212.3L349.2 212.7L348.8 217.2L348.2 222.5L347.7 225.2L344.7 224.7L343.2 221.0L343.7 216.5Z" fill="#d9f0a3"/>
<path d="M377.3 202.7L380.0 201.5L383.0 201.5L384.5 198.8L386.7 199.2L388.2 200.0L391.2 200.3L392.0 203.0L389.7 203.7L388.2 204.5L389.7 207.5L392.7 210.5L396.5 213.5L400.2 215.7L401.7 217.7L399.5 217.2L398.0 218.7L399.5 221.7L397.2 222.5L395.7 219.5L394.2 216.5L391.2 214.2L388.2 211.7L385.2 209.0L383.0 206.7L380.0 206.0L377.7 205.2Z" fill="#addd8e"/>
<path d="M390.2 223.2L395.7 222.2L396.5 223.7L394.2 225.8L390.5 224.7Z" fill="#addd8e"/>
<path d="M380.7 210.5L383.0 209.7L383.7 215.0L382.7 219.5L380.4 218.7L380.7 214.2Z" fill="#addd8e"/>
<path d="M381.5 206.0L383.0 205.7L383.3 209.0L381.8 209.3Z" fill="#addd8e"/>
<path d="M376.2 198.8L378.5 197.3L382.2 197.7L384.5 198.8L383.0 201.5L379.2 201.8L377.0 201.0Z" fill="#d9f0a3"/>
<path d="M386.7 198.0L389.0 195.8L392.0 193.5L394.2 195.0L398.0 194.7L399.5 195.8L398.7 197.3L398.7 200.3L395.7 199.5L391.2 200.3L387.5 199.8Z" fill="#d9f0a3"/>
<path d="M391.2 200.3L395.7 199.5L398.7 200.3L401.7 202.2L399.5 203.3L396.5 202.5L395.0 204.5L398.0 207.5L401.0 209.7L400.2 210.5L396.5 208.2L393.5 205.2L392.0 203.0Z" fill="#ffffcc"/>
<path d="M398.7 197.3L399.5 195.8L403.2 196.5L408.5 195.5L410.0 197.3L407.0 200.3L405.5 202.7L401.7 202.2L398.7 200.3Z" fill="#ffffcc"/>
<path d="M410.0 197.3L415.2 195.0L419.0 195.0L421.2 197.3L423.5 199.5L422.7 203.3L424.2 205.5L419.0 206.3L413.0 206.3L408.5 204.5L405.5 202.7L407.0 200.3Z" fill="#ffffcc"/>
<path d="M410.0 207.5L408.5 204.5L413.0 206.3L419.0 206.3L423.8 206.0L422.0 209.7L421.2 212.0L416.7 213.5L413.0 213.2L410.7 211.2Z" fill="#ffffcc"/>
<path d="M407.0 215.0L408.5 212.3L410.7 211.4L413.0 213.2L416.7 213.5L419.7 212.7L419.0 215.0L415.2 215.7L413.0 217.2L413.7 220.2L416.0 223.2L414.5 225.5L412.2 226.2L410.7 223.2L408.8 221.0L406.7 218.0Z" fill="#ffffcc"/>
<path d="M414.5 229.2L419.0 228.8L420.2 230.0L416.0 230.4Z" fill="#ffffcc"/>
<path d="M419.7 215.0L422.0 212.7L425.0 214.2L431.0 212.7L437.0 212.0L443.0 212.7L449.0 212.0L455.0 213.5L457.2 215.0L458.0 222.5L455.0 224.0L451.2 224.7L446.0 226.2L440.0 226.2L435.5 225.2L431.0 227.0L426.5 225.8L423.5 224.3L421.2 221.7L419.7 218.7Z" fill="#addd8e"/>
<path d="M419.0 214.2L421.2 212.3L423.5 213.5L422.0 215.0L419.7 215.3Z" fill="#addd8e"/>
<path d="M433.2 229.7L437.0 228.5L438.2 229.7L435.5 231.2Z" fill="#ffffcc"/>
<path d="M413.7 144.0L419.0 144.7L425.0 146.2L431.0 147.7L433.2 150.7L428.0 152.2L423.5 151.8L422.7 153.7L426.5 156.0L431.0 155.2L434.0 153.7L438.5 151.5L440.0 148.5L440.0 149.0L446.0 148.4L452.0 147.6L456.0 146.4L462.0 146.0L468.0 144.4L472.0 142.0L473.0 138.0L477.0 137.6L480.0 141.0L482.0 145.0L485.0 149.0L488.0 152.0L489.6 151.0L488.0 147.0L485.6 143.0L483.0 140.0L487.0 138.0L492.0 137.0L497.0 135.0L500.0 132.0L506.0 131.0L512.0 130.0L519.0 128.4L526.0 129.6L533.0 131.0L539.0 133.0L538.0 135.0L546.0 136.0L554.0 135.6L562.0 137.0L570.0 139.0L578.0 141.0L584.0 140.0L592.0 141.0L600.0 139.6L610.0 141.2L620.0 142.5L627.5 143.0L632.5 145.0L645.0 145.5L650.0 144.5L660.0 145.0L667.5 147.5L670.0 150.0L676.0 154.5L680.5 157.5L685.7 160.8L680.5 162.3L678.2 161.7L676.0 166.2L670.0 167.2L667.0 168.0L670.0 172.5L673.7 177.0L676.0 179.2L674.8 188.7L670.0 184.5L664.7 179.2L660.2 174.7L658.3 172.5L660.2 165.0L658.3 161.2L655.0 165.0L648.2 164.2L647.5 168.0L642.2 168.3L634.0 168.7L628.0 169.5L626.2 174.0L624.2 178.5L631.0 180.7L635.5 182.2L640.0 185.2L643.7 189.7L646.0 195.0L646.3 201.0L645.2 206.2L642.2 210.0L639.2 209.2L637.4 203.5L637.2 199.3L635.2 196.0L631.5 197.2L627.0 196.0L622.5 193.7L618.0 190.7L615.0 187.7L610.5 184.7L606.0 183.2L601.5 183.2L599.2 185.5L600.0 190.0L596.2 192.2L591.0 192.2L585.0 193.7L577.5 192.2L570.0 191.5L564.0 188.5L559.5 187.7L558.0 191.5L553.5 190.0L546.0 190.7L540.7 193.7L539.0 194.7L536.0 192.5L530.0 189.5L524.0 188.0L519.5 185.0L514.2 181.2L509.0 181.7L503.0 180.8L497.7 178.7L491.0 180.2L485.0 181.7L482.0 185.0L484.2 188.7L477.5 189.2L470.0 188.0L462.5 188.7L457.7 192.5L458.0 195.5L460.2 197.7L462.5 201.5L461.0 205.2L462.5 209.7L464.7 212.7L464.0 213.5L459.5 212.7L455.0 211.2L450.5 209.3L446.0 206.7L441.5 205.2L440.0 204.8L440.0 204.0L441.5 201.7L443.3 198.0L443.7 196.5L442.2 192.7L437.0 190.5L431.0 188.2L425.0 186.0L425.0 183.0L421.2 180.0L416.7 177.7L415.2 175.5L416.0 171.7L414.5 168.0L415.2 164.2L418.2 161.2L416.0 156.7L414.5 152.2L412.2 147.7Z" fill="#78c679"/>
<path d="M447.0 140.0L448.4 135.0L452.0 132.0L458.0 130.0L467.0 129.4L464.0 131.6L458.0 133.0L454.0 135.0L452.0 139.0L455.0 142.0L451.0 142.4Z" fill="#78c679"/>
<path d="M493.6 123.0L500.0 122.0L508.0 124.4L506.0 125.6L499.0 125.0Z" fill="#78c679"/>
<path d="M510.0 125.0L517.0 126.0L516.0 127.6L510.4 127.0Z" fill="#78c679"/>
<path d="M574.0 131.6L580.0 131.0L587.0 132.4L585.0 133.6L578.0 133.0Z" fill="#78c679"/>
<path d="M589.0 133.0L597.0 133.6L596.0 134.6L589.6 134.4Z" fill="#78c679"/>
<path d="M639.2 181.2L642.2 183.7L646.7 189.0L651.2 193.5L654.2 195.0L652.7 196.5L655.0 200.2L655.7 201.7L653.5 199.5L650.5 195.0L646.7 191.2L643.0 186.7L639.7 183.0Z" fill="#78c679"/>
<path d="M655.7 204.7L658.7 206.2L661.7 207.0L664.0 206.2L666.7 207.7L664.7 210.0L662.5 210.7L660.2 213.0L658.0 212.2L656.5 209.2Z" fill="#78c679"/>
<path d="M660.2 214.5L662.5 216.0L664.7 219.7L665.8 223.5L667.7 228.0L665.5 231.0L662.5 231.7L659.5 230.2L657.2 228.7L655.0 229.2L652.0 229.5L649.3 231.7L651.2 233.2L653.5 232.5L655.0 234.0L652.7 235.5L649.7 234.7L648.2 237.0L649.3 240.0L646.7 238.5L647.2 235.5L648.7 232.5L650.5 229.5L653.5 228.3L657.2 227.2L658.0 224.2L660.2 220.5L659.5 217.5Z" fill="#78c679"/>
<path d="M646.7 235.8L649.3 234.9L650.5 237.7L651.2 240.7L649.3 242.2L647.5 240.7Z" fill="#78c679"/>
<path d="M634.7 222.7L637.7 221.7L640.7 223.2L643.0 226.5L643.7 229.5L641.5 231.7L638.5 231.0L636.2 228.0L634.7 225.0Z" fill="#d9f0a3"/>
<path d="M539.0 194.7L537.5 197.7L533.0 199.2L531.5 203.7L529.2 206.0L530.7 209.0L530.0 212.0L526.2 214.2L522.5 215.7L521.0 218.0L521.7 218.0L521.0 221.0L523.2 221.7L523.2 226.2L527.7 227.0L530.7 230.0L533.0 231.5L536.0 236.0L539.0 240.5L544.5 242.7L549.0 245.0L555.0 247.2L559.5 248.7L562.5 248.0L567.7 248.7L571.5 245.7L576.0 245.0L579.7 248.0L582.7 251.0L583.5 255.5L585.0 260.0L588.0 263.7L591.7 265.2L594.7 263.0L598.5 261.5L602.2 261.5L604.5 264.5L609.0 266.7L612.0 266.0L615.0 265.2L619.5 263.7L624.0 261.5L628.5 258.5L631.5 254.0L633.3 249.5L631.5 241.0L628.5 236.5L624.7 232.7L622.5 229.0L625.5 226.7L627.0 224.8L624.0 223.7L621.7 223.0L619.5 224.2L616.5 222.7L615.3 220.0L618.0 217.7L621.0 215.8L622.2 218.2L624.0 219.2L626.2 217.7L630.0 214.3L633.0 211.7L636.0 209.5L634.5 205.0L637.5 203.5L637.2 199.3L635.2 196.0L631.5 197.2L627.0 196.0L622.5 193.7L618.0 190.7L615.0 187.7L610.5 184.7L606.0 183.2L601.5 183.2L599.2 185.5L600.0 190.0L596.2 192.2L597.7 195.2L600.0 197.5L604.5 197.5L606.7 199.3L603.0 200.5L598.5 202.7L595.5 205.0L594.0 208.7L589.5 210.2L585.0 212.5L580.5 211.7L574.5 211.0L568.5 210.2L564.0 208.0L559.5 205.0L554.2 202.7L549.7 200.5L548.2 197.5L544.5 196.0L540.7 193.7Z" fill="#005a32"/>
<path d="M609.7 270.5L612.7 269.3L614.7 270.8L613.5 273.2L610.8 273.5Z" fill="#005a32"/>
<path d="M634.2 257.0L636.0 255.8L636.7 259.2L635.7 263.7L634.2 262.2Z" fill="#ffffcc"/>
<path d="M457.7 192.5L462.5 188.7L470.0 188.0L477.5 189.2L484.2 188.7L482.0 185.0L485.0 181.7L491.0 180.2L497.7 178.7L503.0 180.8L509.0 181.7L514.2 181.2L519.5 185.0L524.0 188.0L530.0 189.5L536.0 192.5L539.0 194.7L537.5 197.7L533.0 199.2L531.5 203.7L529.2 206.0L530.7 209.0L527.0 210.5L521.0 210.2L515.0 210.8L512.0 213.5L509.0 215.0L508.2 212.7L504.5 213.5L501.5 210.2L497.7 207.5L492.5 208.2L488.0 206.7L483.5 203.0L479.0 204.2L478.2 207.5L479.7 212.7L476.0 213.5L473.7 211.2L470.7 209.3L472.2 205.2L469.2 200.7L464.7 199.7L462.5 201.5L460.2 197.7L458.0 195.5Z" fill="#ffffcc"/>
<path d="M478.2 207.5L479.0 204.2L483.5 203.0L488.0 206.7L492.5 208.2L497.7 207.5L501.5 210.2L504.5 213.5L508.2 212.7L509.0 215.0L512.0 213.5L515.0 214.2L513.5 216.5L509.7 216.8L507.5 219.5L506.7 222.5L503.0 221.7L500.0 218.0L495.5 215.7L491.0 213.5L486.5 211.2L483.5 210.5L479.7 212.7Z" fill="#ffffcc"/>
<path d="M473.7 211.2L476.0 213.5L479.7 212.7L483.5 210.5L486.5 211.2L491.0 213.5L495.5 215.7L500.0 218.0L503.0 221.7L506.7 222.5L506.0 224.7L502.2 225.8L497.7 227.7L495.0 227.4L489.0 223.5L482.0 222.9L477.9 225.0L476.7 221.0L475.2 217.2L476.7 215.0L474.5 214.2Z" fill="#ffffcc"/>
<path d="M500.7 255.5L504.5 252.5L502.2 245.0L506.7 242.7L512.0 239.0L515.7 234.5L518.0 230.0L518.3 227.8L519.5 224.8L523.2 224.0L523.2 226.3L527.7 227.0L530.7 230.0L530.0 231.5L526.2 233.0L524.0 237.5L525.5 241.2L527.0 245.0L525.5 248.7L521.7 249.5L518.7 251.0L521.0 254.7L521.7 258.5L518.0 259.2L515.7 257.7L510.5 255.5L506.0 254.7Z" fill="#d9f0a3"/>
<path d="M459.0 224.0L458.5 219.5L460.0 219.0L463.0 220.5L465.0 219.5L467.5 221.0L468.5 222.5L470.0 225.0L474.0 226.0L478.0 225.0L482.0 223.0L484.5 222.5L489.0 223.5L492.0 225.0L495.0 227.5L496.0 230.0L495.5 233.5L496.5 236.5L498.5 240.0L499.0 244.0L502.0 247.5L504.5 251.0L503.5 253.0L501.5 256.0L498.0 255.0L494.0 254.0L491.5 253.0L490.0 251.5L487.0 252.0L484.0 250.5L481.0 248.5L478.0 246.5L475.5 244.0L473.0 243.5L471.0 244.0L470.0 243.5L469.5 242.0L468.5 239.0L466.0 236.0L463.0 232.5L462.0 229.5L460.0 226.5Z" fill="#ffffcc"/>
<path d="M453.5 225.0L459.0 224.0L460.0 226.5L462.0 229.5L463.0 232.5L466.0 236.0L468.5 239.0L469.5 242.0L470.0 243.5L467.5 244.0L465.5 245.5L462.0 244.5L457.0 241.5L452.5 239.0L449.5 236.0L448.5 234.0L451.0 231.5L452.5 228.5Z" fill="#ffffcc"/>
<path d="M467.5 244.0L470.0 243.5L471.0 245.5L469.5 247.0L468.0 246.0Z" fill="#ffffcc"/>
<path d="M439.5 235.5L440.8 235.0L441.2 237.5L440.8 240.0L440.4 243.5L439.6 240.0Z" fill="#ffffcc"/>
<path d="M460.0 215.0L464.0 214.0L467.0 216.0L469.0 217.0L468.0 219.5L468.5 222.5L467.5 221.0L465.0 219.5L463.0 220.5L460.0 219.0Z" fill="#ffffcc"/>
<path d="M450.5 211.8L454.0 212.5L457.5 213.5L460.0 215.0L457.0 216.5L454.0 215.5L451.5 214.5Z" fill="#ffffcc"/>
<path d="M441.0 245.0L443.5 244.0L446.0 240.0L447.5 238.5L449.5 236.0L452.5 239.0L457.0 241.5L462.0 244.5L465.5 245.5L468.0 246.0L469.5 247.0L470.7 248.0L474.5 252.5L478.2 257.7L480.5 260.0L485.0 261.5L488.0 262.2L488.7 265.2L487.2 269.3L482.0 271.2L476.0 273.5L471.5 275.0L467.0 275.7L462.5 277.2L460.2 278.0L458.0 273.5L454.2 269.0L451.2 263.7L448.2 257.7L445.2 251.7L443.7 248.0Z" fill="#ffffcc"/>
<path d="M487.2 269.3L488.7 265.2L488.0 262.2L491.7 261.5L494.7 260.0L497.7 263.7L496.2 267.5L493.2 271.2L490.2 275.0L485.7 278.0L483.5 274.2L482.0 271.2Z" fill="#ffffcc"/>
<path d="M480.5 260.0L485.0 261.5L488.0 262.2L491.7 261.5L492.5 258.5L491.0 257.7L488.0 257.0L485.0 259.2L482.7 260.0Z" fill="#ffffcc"/>
<path d="M479.3 254.7L480.8 254.0L481.2 257.0L479.7 257.7Z" fill="#ffffcc"/>
<path d="M518.0 259.2L521.7 258.5L521.0 254.7L518.7 251.0L521.7 249.5L525.5 248.7L527.0 245.0L525.5 241.2L524.0 237.5L526.2 233.0L530.0 231.5L530.7 230.0L533.0 231.5L536.0 236.0L539.0 240.5L541.8 242.7L541.5 244.7L543.7 246.5L549.0 249.5L555.0 251.7L559.5 252.5L559.5 249.2L562.5 248.3L563.2 251.3L567.7 251.0L567.7 248.7L571.5 245.7L576.0 245.0L579.7 248.0L576.7 251.7L575.2 255.5L573.7 259.2L572.2 262.2L570.7 260.0L569.2 256.2L566.2 254.0L562.5 254.0L561.0 254.0L562.5 260.0L564.7 263.7L563.2 263.7L559.5 267.5L555.0 272.7L550.5 278.0L546.7 282.5L546.0 288.5L545.2 294.5L543.0 299.7L540.7 302.0L540.5 298.2L537.5 293.0L534.5 287.0L531.5 279.5L529.2 273.5L528.5 267.5L524.0 266.7L520.2 263.7Z" fill="#41ab5d"/>
<path d="M546.8 296.0L549.5 297.5L551.7 302.0L550.2 305.7L547.7 305.0L546.2 300.5Z" fill="#ffffcc"/>
<path d="M561.0 254.0L564.0 253.2L567.7 254.7L570.0 257.7L571.5 261.5L572.2 265.2L570.0 263.7L567.7 262.2L564.7 263.7L562.5 260.0Z" fill="#ffffcc"/>
<path d="M585.0 272.0L588.0 269.3L591.7 268.7L594.7 271.2L597.7 274.2L601.5 276.5L603.0 280.2L601.5 284.0L597.7 285.8L596.2 289.2L592.5 287.7L591.0 291.5L590.2 296.0L591.7 299.7L594.0 303.5L596.2 305.7L594.7 306.5L591.7 303.5L589.5 299.7L588.7 294.5L589.2 290.0L588.0 284.7L586.5 280.2L584.2 276.5Z" fill="#d9f0a3"/>
<path d="M594.7 263.0L598.5 261.5L602.2 261.5L604.5 264.5L603.0 267.5L605.2 270.5L608.2 275.0L611.2 279.5L613.5 284.7L613.2 289.2L610.5 293.0L606.7 296.0L604.5 298.2L603.7 295.2L606.7 292.2L609.0 288.5L609.0 284.0L606.7 280.2L603.7 275.0L600.7 270.5L597.7 266.7Z" fill="#addd8e"/>
<path d="M589.5 297.5L592.5 298.2L595.5 302.7L599.2 306.5L602.2 312.5L603.3 317.7L601.5 318.5L598.5 315.5L595.5 311.0L593.2 306.5L590.2 302.0Z" fill="#d9f0a3"/>
<path d="M582.3 308.0L585.7 307.2L589.5 310.2L593.2 314.7L597.0 317.7L600.7 320.0L603.7 325.2L606.7 329.7L607.2 335.0L605.2 337.2L602.2 335.0L599.2 331.2L596.2 326.7L593.2 322.2L590.2 317.7L586.5 313.2L583.5 310.2Z" fill="#addd8e"/>
<path d="M606.0 338.0L609.7 336.8L615.0 338.7L619.5 338.7L623.2 341.0L627.7 342.8L627.0 344.3L621.7 343.7L616.5 342.5L611.2 341.7L607.5 340.2Z" fill="#addd8e"/>
<path d="M631.2 344.3L633.7 343.2L636.0 343.7L633.7 345.5Z" fill="#addd8e"/>
<path d="M638.2 343.7L642.0 343.2L645.0 342.8L644.2 344.3L640.5 344.7Z" fill="#addd8e"/>
<path d="M636.7 346.7L639.0 346.2L639.7 347.7L637.5 348.2Z" fill="#addd8e"/>
<path d="M646.5 347.0L649.5 345.2L651.0 345.8L648.7 348.5Z" fill="#addd8e"/>
<path d="M614.2 317.7L618.0 316.2L621.7 314.7L626.2 311.7L629.2 308.0L631.5 303.8L634.5 305.0L637.5 308.0L634.5 310.2L635.2 314.7L636.7 319.2L634.5 322.2L632.2 326.7L630.7 331.2L627.7 332.0L624.7 329.7L621.0 330.5L617.7 329.0L615.7 325.2L614.7 321.5Z" fill="#addd8e"/>
<path d="M615.7 318.5L618.0 316.2L621.7 314.7L626.2 311.7L629.2 308.0L631.5 303.8L634.5 305.0L637.5 308.0L634.5 310.2L630.7 310.2L628.5 313.2L624.7 315.5L621.0 317.7L617.2 318.8Z" fill="#d9f0a3"/>
<path d="M638.2 322.2L640.5 319.2L645.0 318.5L649.5 317.7L651.7 317.3L650.2 320.0L645.7 320.7L642.0 322.2L643.5 325.2L647.2 323.7L646.5 326.0L643.5 327.5L645.0 331.2L646.8 335.0L645.0 335.7L642.7 332.7L641.2 329.7L640.5 335.0L639.0 335.7L637.8 330.5L637.2 327.5Z" fill="#addd8e"/>
<path d="M657.0 317.0L658.8 316.2L660.0 320.0L658.8 323.7L657.3 321.5Z" fill="#addd8e"/>
<path d="M653.2 330.2L656.2 329.7L656.7 331.2L653.7 331.5Z" fill="#addd8e"/>
<path d="M658.5 329.3L663.0 329.0L664.5 330.5L660.0 330.8Z" fill="#addd8e"/>
<path d="M664.5 324.8L668.2 323.0L672.0 323.7L673.5 326.7L678.0 327.5L681.7 326.0L688.5 327.5L688.5 344.7L684.7 344.0L681.7 343.2L679.5 341.7L681.0 338.0L678.0 335.0L675.0 332.0L671.2 330.5L669.0 328.2L666.0 327.2Z" fill="#addd8e"/>
<path d="M672.0 336.5L673.5 335.7L673.2 339.5L671.7 339.2Z" fill="#addd8e"/>
<path d="M637.2 274.2L639.7 273.2L642.0 275.0L641.7 279.5L640.5 283.2L642.7 285.8L645.0 287.0L643.5 288.8L640.5 287.7L638.2 284.0L637.5 279.5Z" fill="#ffffcc"/>
<path d="M632.2 299.0L635.2 295.2L637.5 292.7L637.8 293.7L636.0 296.7L633.3 299.7Z" fill="#ffffcc"/>
<path d="M643.5 290.0L648.0 289.2L651.0 291.5L649.5 293.7L645.7 294.5L643.5 293.0Z" fill="#ffffcc"/>
<path d="M645.0 300.5L649.5 298.2L652.5 296.7L654.3 300.5L653.7 305.0L651.0 306.5L648.0 304.2L645.0 302.7Z" fill="#ffffcc"/>
<path d="M615.0 410.0L616.2 403.8L617.5 395.0L618.0 387.5L620.0 380.0L626.2 376.2L637.5 372.5L643.8 366.2L648.8 361.2L653.8 358.8L658.8 360.0L661.2 355.0L666.2 351.2L672.5 353.8L675.0 352.5L676.2 360.0L680.0 366.2L683.8 367.5L687.5 360.0L689.5 351.2L692.5 355.0L694.5 365.0L698.8 372.5L702.5 378.8L705.0 387.5L705.5 395.0L702.5 403.8L697.5 411.2L692.5 417.5L686.2 421.2L680.0 423.8L675.0 422.5L670.0 422.5L665.0 418.8L663.8 412.5L666.2 408.8L662.5 411.2L660.0 412.5L656.2 406.2L648.8 404.5L640.0 405.5L631.2 410.0L623.8 411.2L618.8 413.0Z" fill="#addd8e"/>
<path d="M667.5 429.5L672.5 428.0L676.2 429.5L673.8 433.8L668.8 435.5Z" fill="#addd8e"/>
<path d="M732.5 429.5L736.2 425.0L738.8 418.8L739.5 412.5L741.2 412.5L742.0 418.0L746.2 420.5L743.8 423.8L740.0 426.2L736.2 429.5Z" fill="#ffffcc"/>
<path d="M705.0 441.2L710.0 438.0L717.5 435.0L725.0 431.2L730.0 428.0L730.5 430.5L726.2 433.8L720.0 437.5L713.8 441.2L708.8 443.8Z" fill="#ffffcc"/>
<path d="M8.8 269.5L11.2 268.8L12.0 271.2L10.0 272.5Z" fill="#238443"/>
<path d="M6.0 266.5L7.5 266.2L7.5 267.5L6.2 267.5Z" fill="#238443"/>
<path d="M3.5 264.5L4.8 264.5L4.8 265.5L3.5 265.5Z" fill="#238443"/>
<path d="M184.2 302.5L187.2 298.0L190.2 295.0L194.0 292.7L197.0 290.8L199.2 289.7L198.5 292.7L196.7 295.7L197.0 299.5L199.2 303.2L203.7 304.7L206.7 307.0L207.5 312.2L206.7 316.7L204.5 317.5L202.2 319.3L203.0 325.0L203.7 328.7L200.0 328.0L196.2 326.5L192.5 324.2L188.7 322.0L185.0 319.7L182.0 317.5L182.7 313.0L184.2 308.5Z" fill="#d9f0a3"/>
<path d="M199.2 289.7L200.0 292.7L201.5 294.2L199.2 297.2L200.0 299.5L202.2 295.7L206.0 294.2L211.2 295.0L216.5 294.7L221.0 293.8L223.2 294.2L222.5 296.5L224.0 299.5L223.2 304.0L222.5 307.7L219.5 310.0L215.0 311.5L214.2 314.5L215.0 317.5L211.2 319.3L209.3 316.0L207.5 312.2L206.7 307.0L203.7 304.7L199.2 303.2L197.0 299.5L196.7 295.7L198.5 292.7Z" fill="#d9f0a3"/>
<path d="M176.7 325.0L179.0 321.2L182.0 319.0L185.0 319.7L188.7 322.0L189.5 324.2L187.2 328.0L184.2 330.2L181.2 331.7L179.0 334.0L176.7 331.7L177.5 328.0Z" fill="#ffffcc"/>
<path d="M176.7 331.7L179.0 334.0L181.2 331.7L184.2 330.2L187.2 328.0L189.5 324.2L192.5 324.2L196.2 326.5L200.0 328.0L201.5 330.2L199.2 333.2L195.5 336.2L193.7 340.0L194.7 344.5L197.7 347.5L200.7 346.7L202.2 350.5L205.2 352.0L206.0 358.0L206.0 364.0L206.0 368.9L203.7 368.2L199.2 365.2L194.0 360.2L189.5 355.0L186.5 349.7L182.7 343.7L179.0 338.5L176.3 334.0Z" fill="#ffffcc"/>
<path d="M202.2 319.3L204.5 317.5L206.7 316.7L209.3 316.0L211.2 319.3L215.0 317.5L214.2 314.5L215.0 311.5L219.5 310.0L222.5 307.7L224.7 309.2L225.5 313.0L227.0 317.5L230.7 316.7L234.5 315.2L238.2 316.0L242.0 314.5L244.2 310.7L246.5 313.0L248.0 317.5L247.2 320.5L251.7 323.5L257.0 325.0L261.5 328.0L267.5 329.5L273.5 331.7L278.0 334.7L281.7 337.7L282.8 343.0L281.0 348.2L278.0 353.5L275.0 358.0L273.5 363.2L274.2 366.0L273.5 372.0L270.5 377.2L266.0 381.0L260.0 383.2L256.2 386.2L254.3 390.0L254.7 394.5L252.5 400.5L249.5 405.0L246.5 409.5L244.2 406.5L240.5 403.5L236.7 400.5L239.0 397.5L241.2 393.7L242.7 390.7L240.5 387.7L238.2 384.0L234.5 381.0L232.2 376.5L230.0 370.5L227.7 366.0L225.5 363.0L223.2 358.0L218.0 354.2L212.7 350.5L209.7 349.0L206.0 350.5L202.2 350.5L200.7 346.7L197.7 347.5L194.7 344.5L193.7 340.0L195.5 336.2L199.2 333.2L201.5 330.2L202.2 328.0L203.7 328.7L203.0 325.0Z" fill="#41ab5d"/>
<path d="M204.2 369.0L206.0 369.0L208.2 375.0L210.5 381.0L209.7 387.0L208.7 393.0L209.3 399.0L208.2 405.0L209.7 411.0L211.2 418.5L210.8 424.5L212.7 430.5L214.2 436.5L215.0 444.0L215.7 450.0L216.5 456.0L219.5 460.5L223.2 462.4L221.0 463.2L216.5 461.2L212.7 457.5L210.2 453.0L209.3 450.0L208.7 444.0L209.3 438.0L207.5 432.0L206.7 426.0L204.8 420.0L205.2 412.5L206.0 405.0L204.8 396.0L205.7 387.0L205.2 378.0Z" fill="#d9f0a3"/>
<path d="M210.5 381.0L213.5 379.5L217.2 378.7L221.7 378.7L222.5 378.7L226.2 381.0L230.0 384.0L233.7 387.0L233.0 390.7L235.2 392.2L239.7 392.2L242.7 390.7L241.2 393.7L239.0 397.5L236.7 400.5L236.0 405.0L236.7 410.2L240.5 412.8L239.7 417.0L236.0 420.7L231.5 422.2L229.2 426.0L231.5 428.2L227.7 429.0L225.5 432.0L227.7 435.0L225.5 438.0L224.7 442.5L227.7 445.5L229.2 450.0L226.2 453.7L227.7 457.5L225.8 459.7L221.0 457.5L217.7 454.5L215.7 450.0L215.0 444.0L214.2 436.5L212.7 430.5L210.8 424.5L211.2 418.5L209.7 411.0L208.2 405.0L209.3 399.0L208.7 393.0L209.7 387.0Z" fill="#d9f0a3"/>
<path d="M226.2 459.7L231.5 462.0L236.7 463.8L236.0 465.0L230.7 465.3L226.2 463.5L224.0 462.0Z" fill="#d9f0a3"/>
<path d="M350.7 228.8L355.2 230.0L359.7 230.7L359.0 234.5L360.8 236.7L356.7 239.7L353.0 242.0L347.7 244.2L344.0 246.5L341.0 248.7L335.7 249.2L338.0 246.5L341.0 242.7L341.7 238.2L344.0 234.5L347.7 231.5Z" fill="#ffffcc"/>
<path d="M359.7 230.7L365.0 228.5L371.0 227.0L378.5 225.5L381.8 225.2L382.7 228.5L381.5 233.0L384.5 236.7L386.0 242.0L385.2 248.0L386.7 254.0L389.7 258.5L386.0 261.5L380.0 266.0L372.5 272.0L369.5 270.5L362.0 265.2L354.5 260.0L348.5 255.5L344.0 251.0L344.0 246.5L347.7 244.2L353.0 242.0L356.7 239.7L360.8 236.7L359.0 234.5Z" fill="#ffffcc"/>
<path d="M418.2 239.7L425.0 240.8L431.0 240.2L437.0 240.8L438.5 241.2L440.0 245.0L438.5 248.0L437.0 245.0L434.7 244.2L438.5 251.0L443.0 258.5L446.0 264.0L419.0 264.0L419.0 248.0L418.2 242.0Z" fill="#ffffcc"/>
<path d="M400.2 396.0L402.5 396.7L406.2 394.5L408.5 387.0L410.0 390.7L414.5 389.2L419.0 387.0L422.7 384.7L426.5 381.7L430.2 379.8L433.2 381.7L434.3 387.0L435.8 390.0L434.7 393.0L432.5 397.5L429.5 402.0L425.7 405.7L421.2 408.7L416.0 410.2L410.0 411.0L405.5 412.2L402.5 410.2L401.7 405.0L401.0 400.5Z" fill="#ffffcc"/>
</g>
<g fill="url(#hatch)" stroke="#c8c8c8" stroke-width="0.5">
<path d="M423.2 398.2L426.2 396.3L428.0 398.2L425.0 400.8Z"/>
<path d="M431.7 390.0L434.0 389.2L435.2 391.2L432.8 392.7Z"/>
</g>
</g>

<text class="title" x="17" y="39.8" font-size="26" textLength="595.5" lengthAdjust="spacingAndGlyphs">Primary energy consumption from renewables, 2024</text>
<text class="sub" x="17" y="66.3" font-size="15" textLength="689.5" lengthAdjust="spacingAndGlyphs">Primary energy is based on the substitution method and measured in terawatt-hours. Renewables include</text>
<text class="sub" x="17" y="84.3" font-size="15" textLength="626.5" lengthAdjust="spacingAndGlyphs">hydropower, solar, wind, geothermal, wave and tidal, and bioenergy, but not traditional biofuels.</text>
<g>
<rect x="769" y="16" width="65" height="35.8" fill="#002147"/>
<rect x="769" y="49" width="65" height="2.8" fill="#ce261e"/>
<text x="801.5" y="30.6" font-size="11.8" font-weight="bold" fill="#fff" text-anchor="middle" textLength="55" lengthAdjust="spacingAndGlyphs">Our World</text>
<text x="801.7" y="42.9" font-size="11.8" font-weight="bold" fill="#fff" text-anchor="middle" textLength="36.5" lengthAdjust="spacingAndGlyphs">in Data</text>
</g>
<g>
<rect x="120" y="537" width="47.5" height="11" fill="url(#hatch)" stroke="#c8c8c8" stroke-width="0.6"/>
<line x1="143.5" y1="534.5" x2="143.5" y2="537" stroke="#999" stroke-width="0.6"/>
<text class="lg" x="143.5" y="530.2" text-anchor="middle" textLength="45.5" lengthAdjust="spacingAndGlyphs">No data</text>
<rect x="187.2" y="537" width="77.6" height="11" fill="#ffffcc" stroke="#aaa" stroke-width="0.4"/>
<rect x="264.8" y="537" width="77.6" height="11" fill="#d9f0a3" stroke="#aaa" stroke-width="0.4"/>
<rect x="342.4" y="537" width="77.6" height="11" fill="#addd8e" stroke="#aaa" stroke-width="0.4"/>
<rect x="420.0" y="537" width="77.6" height="11" fill="#78c679" stroke="#aaa" stroke-width="0.4"/>
<rect x="497.6" y="537" width="77.6" height="11" fill="#41ab5d" stroke="#aaa" stroke-width="0.4"/>
<rect x="575.2" y="537" width="77.6" height="11" fill="#238443" stroke="#aaa" stroke-width="0.4"/>
<path d="M652.8 537H725.4L730.4 542.5L725.4 548H652.8Z" fill="#005a32"/>
<line x1="187.2" y1="520" x2="187.2" y2="548" stroke="#3a3a3a" stroke-opacity="0.6" stroke-width="0.6"/>
<text class="lg" x="187.2" y="515.3" text-anchor="middle" textLength="39" lengthAdjust="spacingAndGlyphs">0 TWh</text>
<line x1="264.8" y1="534" x2="264.8" y2="548" stroke="#3a3a3a" stroke-opacity="0.6" stroke-width="0.6"/>
<text class="lg" x="264.8" y="530.2" text-anchor="middle" textLength="53.9" lengthAdjust="spacingAndGlyphs">100 TWh</text>
<line x1="342.4" y1="520" x2="342.4" y2="548" stroke="#3a3a3a" stroke-opacity="0.6" stroke-width="0.6"/>
<text class="lg" x="342.4" y="515.3" text-anchor="middle" textLength="53.9" lengthAdjust="spacingAndGlyphs">200 TWh</text>
<line x1="420.0" y1="534" x2="420.0" y2="548" stroke="#3a3a3a" stroke-opacity="0.6" stroke-width="0.6"/>
<text class="lg" x="420.0" y="530.2" text-anchor="middle" textLength="53.9" lengthAdjust="spacingAndGlyphs">500 TWh</text>
<line x1="497.6" y1="520" x2="497.6" y2="548" stroke="#3a3a3a" stroke-opacity="0.6" stroke-width="0.6"/>
<text class="lg" x="497.6" y="515.3" text-anchor="middle" textLength="64.4" lengthAdjust="spacingAndGlyphs">1,000 TWh</text>
<line x1="575.2" y1="534" x2="575.2" y2="548" stroke="#3a3a3a" stroke-opacity="0.6" stroke-width="0.6"/>
<text class="lg" x="575.2" y="530.2" text-anchor="middle" textLength="64.4" lengthAdjust="spacingAndGlyphs">2,000 TWh</text>
<line x1="652.8" y1="520" x2="652.8" y2="548" stroke="#3a3a3a" stroke-opacity="0.6" stroke-width="0.6"/>
<text class="lg" x="652.8" y="515.3" text-anchor="middle" textLength="64.4" lengthAdjust="spacingAndGlyphs">5,000 TWh</text>
</g>

<text class="ft" x="17" y="580.6" textLength="412.5" lengthAdjust="spacingAndGlyphs"><tspan font-weight="bold">Data source:</tspan> Energy Institute - Statistical Review of World Energy (2025)</text>
<text class="ft" x="830.6" y="580.6" text-anchor="end" textLength="207" lengthAdjust="spacingAndGlyphs">OurWorldinData.org/energy | CC BY</text>
</svg>
</body></html>
